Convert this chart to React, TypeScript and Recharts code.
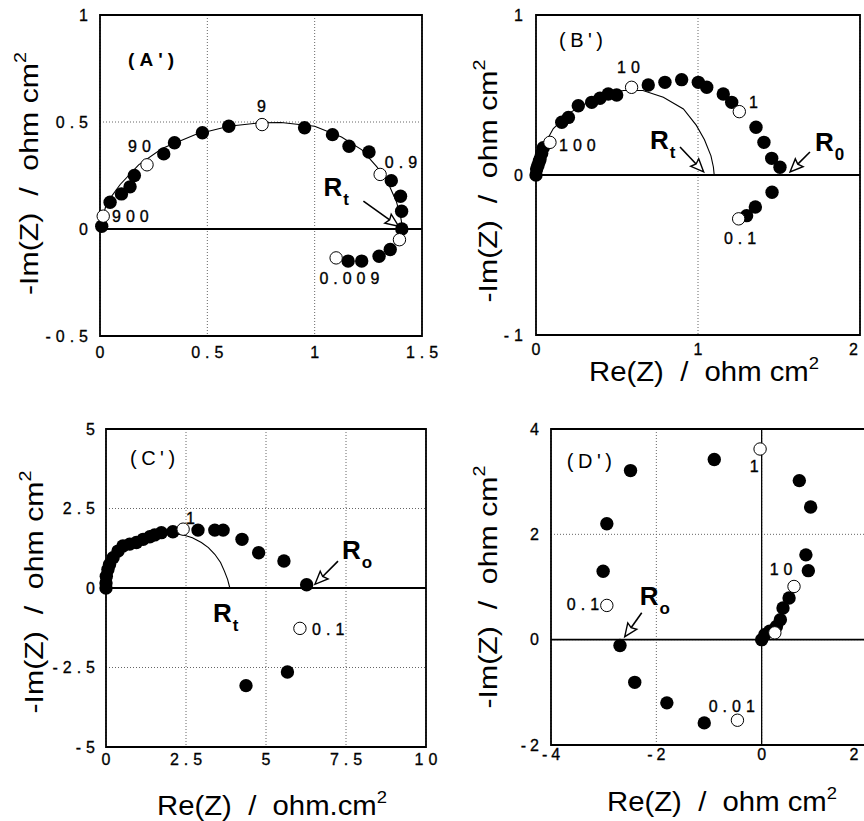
import React from 'react';
import { ScatterChart, Scatter, XAxis, YAxis, CartesianGrid, ReferenceLine, ReferenceArea } from 'recharts';

const FONT = '"Liberation Sans", Arial, Helvetica, sans-serif';

// ---------------- Panel A' ----------------
const aXTicks = [0, 0.5, 1, 1.5];
const aYTicks = [-0.5, 0, 0.5, 1];
const aFilled = [
  { x: 0.008, y: 0.013 }, { x: 0.047, y: 0.125 }, { x: 0.10, y: 0.164 }, { x: 0.14, y: 0.197 },
  { x: 0.16, y: 0.25 }, { x: 0.297, y: 0.351 }, { x: 0.347, y: 0.403 }, { x: 0.477, y: 0.45 },
  { x: 0.60, y: 0.48 }, { x: 0.953, y: 0.473 }, { x: 1.083, y: 0.441 }, { x: 1.16, y: 0.387 },
  { x: 1.253, y: 0.36 }, { x: 1.357, y: 0.226 }, { x: 1.40, y: 0.153 }, { x: 1.405, y: 0.083 },
  { x: 1.406, y: 0.0 }, { x: 1.352, y: -0.096 }, { x: 1.30, y: -0.127 }, { x: 1.219, y: -0.15 },
  { x: 1.156, y: -0.15 },
];
const aOpen = [
  { x: 0.015, y: 0.06 }, { x: 0.219, y: 0.30 }, { x: 0.755, y: 0.488 }, { x: 1.305, y: 0.255 },
  { x: 1.395, y: -0.05 }, { x: 1.10, y: -0.135 },
];
const aFit = [
  { x: 0, y: 0 }, { x: 0.03, y: 0.12 }, { x: 0.094, y: 0.208 }, { x: 0.18, y: 0.30 },
  { x: 0.289, y: 0.376 }, { x: 0.445, y: 0.442 }, { x: 0.60, y: 0.48 }, { x: 0.74, y: 0.496 },
  { x: 0.844, y: 0.498 }, { x: 1.0, y: 0.48 }, { x: 1.125, y: 0.43 }, { x: 1.22, y: 0.37 },
  { x: 1.29, y: 0.29 }, { x: 1.34, y: 0.22 }, { x: 1.38, y: 0.13 }, { x: 1.40, y: 0.06 }, { x: 1.41, y: 0 },
];
const aNotes = [
  { x: 0.731, y: 0.549, text: '9' },
  { x: 0.131, y: 0.362, text: '90' },
  { x: 0.056, y: 0.035, text: '900' },
  { x: 1.327, y: 0.287, text: '0.9' },
  { x: 1.022, y: -0.259, text: '0.009' },
];
const aRLabels = [{ x: 1.041, y: 0.152, sub: 't' }];
const aArrows = [{ x1: 1.227, y1: 0.13, x2: 1.391, y2: 0.013 }];
const aPanel = { x: 0.131, y: 0.764, text: "(A')" };

// ---------------- Panel B' ----------------
const bXTicks = [0, 1, 2];
const bYTicks = [-1, 0, 1];
const bFilled = [
  { x: 0.0, y: 0.0 }, { x: 0.004, y: 0.0375 }, { x: 0.012, y: 0.06 }, { x: 0.02, y: 0.085 },
  { x: 0.025, y: 0.1 }, { x: 0.035, y: 0.135 }, { x: 0.045, y: 0.17 },
  { x: 0.159, y: 0.33 }, { x: 0.2, y: 0.36 }, { x: 0.261, y: 0.433 }, { x: 0.344, y: 0.454 },
  { x: 0.395, y: 0.48 }, { x: 0.446, y: 0.506 }, { x: 0.498, y: 0.5 },
  { x: 0.693, y: 0.5625 }, { x: 0.796, y: 0.579 }, { x: 0.899, y: 0.596 }, { x: 1.002, y: 0.579 },
  { x: 1.054, y: 0.548 }, { x: 1.156, y: 0.506 }, { x: 1.208, y: 0.454 }, { x: 1.358, y: 0.298 },
  { x: 1.407, y: 0.204 }, { x: 1.455, y: 0.104 }, { x: 1.506, y: 0.048 }, { x: 1.457, y: -0.108 },
  { x: 1.354, y: -0.2 }, { x: 1.30, y: -0.254 },
];
const bOpen = [
  { x: 0.086, y: 0.204 }, { x: 0.59, y: 0.548 }, { x: 1.255, y: 0.396 }, { x: 1.251, y: -0.274 },
];
const bFit = [
  { x: 0, y: 0 }, { x: 0.035, y: 0.16 }, { x: 0.107, y: 0.29 }, { x: 0.21, y: 0.39 },
  { x: 0.375, y: 0.486 }, { x: 0.54, y: 0.528 }, { x: 0.66, y: 0.528 }, { x: 0.786, y: 0.486 },
  { x: 0.91, y: 0.413 }, { x: 0.99, y: 0.31 }, { x: 1.04, y: 0.22 }, { x: 1.08, y: 0.12 },
  { x: 1.095, y: 0.05 }, { x: 1.1, y: 0 },
];
const bNotes = [
  { x: 0.5, y: 0.6375, text: '10' },
  { x: 0.142, y: 0.15, text: '100' },
  { x: 1.315, y: 0.419, text: '1' },
  { x: 1.16, y: -0.431, text: '0.1' },
];
const bRLabels = [{ x: 0.704, y: 0.1625, sub: 't' }, { x: 1.722, y: 0.15, sub: '0' }];
const bArrows = [
  { x1: 0.889, y1: 0.175, x2: 1.035, y2: 0.019 },
  { x1: 1.691, y1: 0.144, x2: 1.568, y2: 0.019 },
];
const bPanel = { x: 0.142, y: 0.8, text: "(B')" };

// ---------------- Panel C' ----------------
const cXTicks = [0, 2.5, 5, 7.5, 10];
const cYTicks = [-5, -2.5, 0, 2.5, 5];
const cFilled = [
  { x: 0, y: 0 }, { x: 0, y: 0.16 }, { x: 0.01, y: 0.37 }, { x: 0.06, y: 0.58 }, { x: 0.11, y: 0.74 },
  { x: 0.22, y: 0.95 }, { x: 0.375, y: 1.16 }, { x: 0.53, y: 1.32 }, { x: 0.74, y: 1.38 },
  { x: 0.95, y: 1.43 }, { x: 1.16, y: 1.53 }, { x: 1.37, y: 1.61 }, { x: 1.52, y: 1.67 },
  { x: 1.73, y: 1.74 }, { x: 2.09, y: 1.77 }, { x: 2.875, y: 1.82 }, { x: 3.40, y: 1.82 },
  { x: 3.66, y: 1.82 }, { x: 4.25, y: 1.53 }, { x: 4.77, y: 1.11 }, { x: 5.56, y: 0.85 },
  { x: 6.27, y: 0.1 }, { x: 5.67, y: -2.64 }, { x: 4.375, y: -3.07 },
];
const cOpen = [{ x: 2.41, y: 1.85 }, { x: 6.06, y: -1.27 }];
const cFit = [
  { x: 0, y: 0 }, { x: 0.02, y: 0.4 }, { x: 0.08, y: 0.8 }, { x: 0.25, y: 1.1 }, { x: 0.5, y: 1.3 },
  { x: 1.0, y: 1.5 }, { x: 1.5, y: 1.62 }, { x: 2.0, y: 1.68 }, { x: 2.35, y: 1.69 }, { x: 2.7, y: 1.58 },
  { x: 2.98, y: 1.43 }, { x: 3.2, y: 1.27 }, { x: 3.4, y: 1.06 }, { x: 3.58, y: 0.8 }, { x: 3.7, y: 0.53 },
  { x: 3.8, y: 0.27 }, { x: 3.87, y: 0 },
];
const cNotes = [
  { x: 2.5, y: 2.02, text: '1' },
  { x: 6.44, y: -1.47, text: '0.1' },
];
const cRLabels = [{ x: 7.375, y: 0.91, sub: 'o' }, { x: 3.34, y: -1.056, sub: 't' }];
const cArrows = [{ x1: 7.25, y1: 0.847, x2: 6.53, y2: 0.117 }];
const cPanel = { x: 0.75, y: 3.86, text: "(C')" };

// ---------------- Panel D' ----------------
const dXTicks = [-4, -2, 0, 2];
const dYTicks = [-2, 0, 2, 4];
const dFilled = [
  { x: -0.90, y: 3.42 }, { x: -2.49, y: 3.21 }, { x: -2.94, y: 2.20 }, { x: -3.01, y: 1.30 },
  { x: -2.69, y: -0.11 }, { x: -2.41, y: -0.81 }, { x: -1.80, y: -1.20 }, { x: -1.09, y: -1.58 },
  { x: 0.715, y: 3.02 }, { x: 0.93, y: 2.52 }, { x: 0.84, y: 1.61 }, { x: 0.886, y: 1.31 },
  { x: 0.52, y: 0.79 }, { x: 0.405, y: 0.60 }, { x: 0.355, y: 0.38 }, { x: 0.28, y: 0.25 },
  { x: 0.15, y: 0.16 }, { x: 0.06, y: 0.095 }, { x: 0, y: 0 },
];
const dOpen = [
  { x: -0.03, y: 3.62 }, { x: -2.94, y: 0.65 }, { x: -0.46, y: -1.53 }, { x: 0.614, y: 1.01 },
  { x: 0.25, y: 0.13 },
];
const dNotes = [
  { x: -0.228, y: 3.19, text: '1' },
  { x: 0.152, y: 1.23, text: '10' },
  { x: -3.70, y: 0.57, text: '0.1' },
  { x: -1.006, y: -1.366, text: '0.01' },
];
const dRLabels = [{ x: -2.315, y: 0.664, sub: 'o' }];
const dArrows = [{ x1: -2.277, y1: 0.512, x2: -2.60, y2: 0.057 }];
const dPanel = { x: -3.70, y: 3.26, text: "(D')" };

// ---------------- shapes ----------------
const FilledDot = (p: any) => <circle cx={p.cx} cy={p.cy} r={6.7} fill="#000" />;
const OpenDot = (p: any) => (
  <circle cx={p.cx} cy={p.cy} r={6.2} fill="#fff" stroke="#000" strokeWidth={1} />
);
const NoDot = () => <g />;

const NoteText = (p: any) => {
  const d = p.payload ?? p;
  return (
    <text x={p.cx} y={p.cy} fontFamily={FONT} fontSize={16} letterSpacing={5}
      fill="#000" stroke="#000" strokeWidth={0.35}>
      {d.text}
    </text>
  );
};
const RText = (p: any) => {
  const d = p.payload ?? p;
  return (
    <text x={p.cx} y={p.cy} fontFamily={FONT} fontSize={26} fontWeight="bold" fill="#000">
      R
      <tspan dx={1} dy={9} fontSize={17}>{d.sub}</tspan>
    </text>
  );
};
const makePanelText = (bold: boolean) => (p: any) => {
  const d = p.payload ?? p;
  return (
    <text x={p.cx} y={p.cy} fontFamily={FONT} fontSize={bold ? 19 : 20} letterSpacing={bold ? 5 : 4.5}
      fontWeight={bold ? 'bold' : 'normal'} fill="#000">
      {d.text}
    </text>
  );
};

const ArrowShape = (p: any) => {
  const { x1, y1, x2, y2 } = p;
  if ([x1, y1, x2, y2].some((v) => typeof v !== 'number' || isNaN(v))) return <g />;
  const ang = Math.atan2(y2 - y1, x2 - x1);
  const L = 13;
  const W = 5.5;
  const c = Math.cos(ang);
  const s = Math.sin(ang);
  const bx = x2 - L * c;
  const by = y2 - L * s;
  const pts = `${x2},${y2} ${bx - W * s},${by + W * c} ${bx + 2 * c},${by + 2 * s} ${bx + W * s},${by - W * c}`;
  return (
    <g>
      <line x1={x1} y1={y1} x2={bx + 2 * c} y2={by + 2 * s} stroke="#000" strokeWidth={1.6} />
      <polygon points={pts} fill="#fff" stroke="#000" strokeWidth={1.4} strokeLinejoin="miter" />
    </g>
  );
};

const fmt = (v: number) => String(v);

const makeXTick = (fs: number, ls: number, dy: number, maxX: number) => (p: any) => (
  <text x={Math.min(p.x + ls / 2, maxX)} y={p.y + dy} textAnchor="middle" fontFamily={FONT} fontSize={fs}
    letterSpacing={ls} fill="#000" stroke="#000" strokeWidth={0.3}>
    {fmt(p.payload.value)}
  </text>
);
const makeYTick = (fs: number, ls: number, gap: number) => (p: any) => (
  <text x={p.x + 8 - gap + ls} y={p.y + fs * 0.36} textAnchor="end" fontFamily={FONT} fontSize={fs}
    letterSpacing={ls} fill="#000" stroke="#000" strokeWidth={0.3}>
    {fmt(p.payload.value)}
  </text>
);

const SP = '\u00a0\u00a0';

const makeYTitle = (dx: number, dy: number, len: number) => (lp: any) => {
  const vb = lp.viewBox || {};
  const cx = vb.x + vb.width + dx;
  const cy = vb.y + vb.height / 2 + dy;
  return (
    <text x={cx} y={cy} transform={`rotate(-90 ${cx} ${cy})`} textAnchor="middle" fontFamily={FONT}
      fontSize={26} fill="#000" textLength={len} lengthAdjust="spacingAndGlyphs">
      {`-Im(Z)${SP}/${SP}ohm cm`}
      <tspan dy={-12} fontSize={17}>2</tspan>
    </text>
  );
};
const makeXTitle = (text: string, dx: number, dy: number, len: number) => (lp: any) => {
  const vb = lp.viewBox || {};
  const cx = vb.x + vb.width / 2 + dx;
  const cy = vb.y + dy;
  return (
    <text x={cx} y={cy} textAnchor="middle" fontFamily={FONT} fontSize={27} fill="#000"
      textLength={len} lengthAdjust="spacingAndGlyphs">
      {text}
      <tspan dy={-12} fontSize={17}>2</tspan>
    </text>
  );
};

type PanelProps = {
  left: number; top: number; width: number; height: number;
  margin: { top: number; right: number; bottom: number; left: number };
  xDomain: [number, number]; xTicks: number[];
  yDomain: [number, number]; yTicks: number[];
  filled: any[]; open: any[]; fit?: any[]; notes: any[]; rLabels: any[]; arrows: any[]; panel: any;
  panelBold: boolean; zeroX?: boolean;
  xTitle?: any; yTitle: any;
  tickFs: number; tickLs: number; xTickDy: number; yTickGap: number; maxTickX: number;
};

function Panel(props: PanelProps) {
  const {
    left, top, width, height, margin, xDomain, xTicks, yDomain, yTicks, filled, open, fit,
    notes, rLabels, arrows, panel, panelBold, zeroX, xTitle, yTitle, tickFs, tickLs, xTickDy, yTickGap, maxTickX,
  } = props;
  return (
    <div style={{ position: 'absolute', left, top, width, height }}>
      <ScatterChart width={width} height={height} margin={margin}>
        <XAxis type="number" dataKey="x" domain={xDomain} ticks={xTicks} interval={0}
          axisLine={false} tickLine={false} height={30} tick={makeXTick(tickFs, tickLs, xTickDy, maxTickX)}
          label={xTitle} />
        <YAxis type="number" dataKey="y" domain={yDomain} ticks={yTicks} interval={0}
          axisLine={false} tickLine={false} width={60} tick={makeYTick(tickFs, tickLs, yTickGap)}
          label={yTitle} />
        <CartesianGrid stroke="#666" strokeDasharray="1 2" strokeWidth={1} />
        <ReferenceLine y={0} stroke="#000" strokeWidth={1.8} />
        {zeroX ? <ReferenceLine x={0} stroke="#000" strokeWidth={1.3} /> : null}
        <ReferenceArea x1={xDomain[0]} x2={xDomain[1]} y1={yDomain[0]} y2={yDomain[1]}
          fill="none" fillOpacity={0} stroke="#000" strokeWidth={1.8} ifOverflow="visible" />
        {fit ? (
          <Scatter data={fit} isAnimationActive={false} shape={NoDot} line={{ stroke: '#000', strokeWidth: 1.1 }}
            lineType="joint" />
        ) : null}
        <Scatter data={filled} isAnimationActive={false} shape={FilledDot} />
        <Scatter data={open} isAnimationActive={false} shape={OpenDot} />
        <Scatter data={notes} isAnimationActive={false} shape={NoteText} />
        <Scatter data={rLabels} isAnimationActive={false} shape={RText} />
        <Scatter data={[panel]} isAnimationActive={false} shape={makePanelText(panelBold)} />
        {arrows.map((a, i) => (
          <ReferenceLine key={i} segment={[{ x: a.x1, y: a.y1 }, { x: a.x2, y: a.y2 }]}
            shape={ArrowShape} ifOverflow="visible" />
        ))}
      </ScatterChart>
    </div>
  );
}

export default function App() {
  return (
    <div style={{ position: 'absolute', left: 0, top: 0, width: 864, height: 821, overflow: 'hidden', background: '#fff' }}>
      <Panel left={0} top={0} width={445} height={410}
        margin={{ top: 15, right: 23, bottom: 44, left: 40 }}
        xDomain={[0, 1.5]} xTicks={aXTicks} yDomain={[-0.5, 1]} yTicks={aYTicks}
        filled={aFilled} open={aOpen} fit={aFit} notes={aNotes} rLabels={aRLabels} arrows={aArrows}
        panel={aPanel} panelBold={true}
        yTitle={makeYTitle(-62, -2, 243)}
        tickFs={16} tickLs={5} xTickDy={14} yTickGap={12} maxTickX={1000} />
      <Panel left={432} top={0} width={440} height={410}
        margin={{ top: 15, right: 12, bottom: 45, left: 44 }}
        xDomain={[0, 2]} xTicks={bXTicks} yDomain={[-1, 1]} yTicks={bYTicks}
        filled={bFilled} open={bOpen} fit={bFit} notes={bNotes} rLabels={bRLabels} arrows={bArrows}
        panel={bPanel} panelBold={false}
        yTitle={makeYTitle(-39, 6, 243)}
        xTitle={makeXTitle(`Re(Z)${SP}/${SP}ohm cm`, 6, 46, 230)}
        tickFs={16} tickLs={5} xTickDy={12} yTickGap={13} maxTickX={424} />
      <Panel left={0} top={410} width={445} height={411}
        margin={{ top: 19, right: 19, bottom: 44, left: 46 }}
        xDomain={[0, 10]} xTicks={cXTicks} yDomain={[-5, 5]} yTicks={cYTicks}
        filled={cFilled} open={cOpen} fit={cFit} notes={cNotes} rLabels={cRLabels} arrows={cArrows}
        panel={cPanel} panelBold={false}
        yTitle={makeYTitle(-63, 4, 243)}
        xTitle={makeXTitle(`Re(Z)${SP}/${SP}ohm.cm`, 6, 68, 230)}
        tickFs={16} tickLs={5} xTickDy={10} yTickGap={11} maxTickX={1000} />
      <Panel left={432} top={410} width={450} height={411}
        margin={{ top: 19, right: 15, bottom: 46, left: 59 }}
        xDomain={[-4, 2]} xTicks={dXTicks} yDomain={[-2, 4]} yTicks={dYTicks}
        filled={dFilled} open={dOpen} notes={dNotes} rLabels={dRLabels} arrows={dArrows}
        panel={dPanel} panelBold={false} zeroX={true}
        yTitle={makeYTitle(-54, 0, 243)}
        xTitle={makeXTitle(`Re(Z)${SP}/${SP}ohm cm`, 13, 66, 230)}
        tickFs={16} tickLs={4} xTickDy={7} yTickGap={12} maxTickX={424} />
    </div>
  );
}
